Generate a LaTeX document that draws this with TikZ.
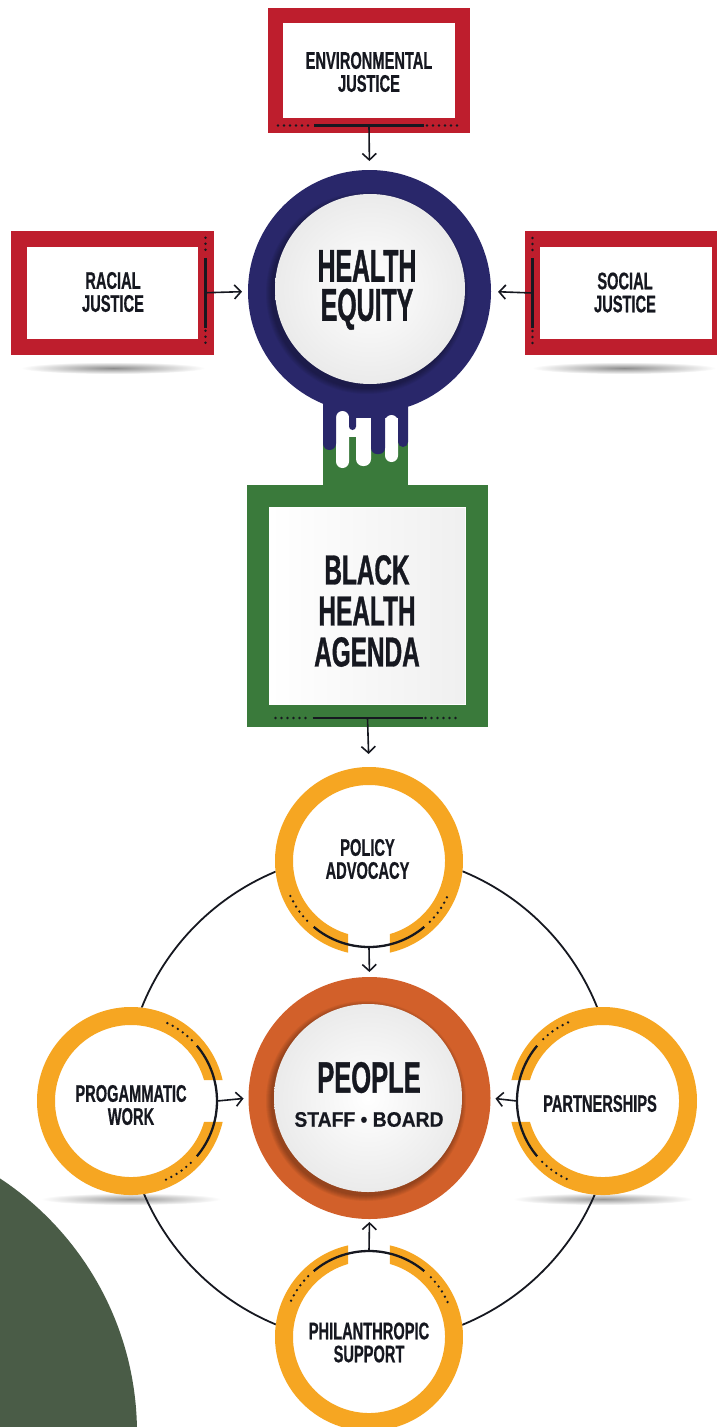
\documentclass[tikz,border=0pt]{standalone}
\usepackage{fontspec}
\setmainfont{Liberation Sans}
\newfontfamily\condS[FakeStretch=0.61, FakeBold=0.6]{Liberation Sans}
\newfontfamily\condL[FakeStretch=0.54, FakeBold=0.8]{Liberation Sans}
\newfontfamily\condM[FakeStretch=0.58, FakeBold=0.8]{Liberation Sans}
\newfontfamily\wideF[FakeStretch=0.92, FakeBold=0.4]{Liberation Sans}
\usetikzlibrary{arrows.meta}
\definecolor{jred}{HTML}{BE1E2D}
\definecolor{jnavy}{HTML}{29276A}
\definecolor{jgreen}{HTML}{3A7A3B}
\definecolor{jorange}{HTML}{F6A622}
\definecolor{jpeople}{HTML}{D2602A}
\definecolor{jdark}{HTML}{4A5C47}
\definecolor{ink}{HTML}{161820}
\tikzset{
  jbox/.style={rectangle, draw=jred, fill=white, inner sep=0pt, outer sep=0pt},
  gbox/.style={rectangle, draw=jgreen, fill=white, inner sep=0pt, outer sep=0pt},
  txtS/.style={font=\condS\bfseries\fontsize{24pt}{23pt}\selectfont, align=center, text=ink, inner sep=0pt},
  txtL/.style={font=\condL\bfseries\fontsize{46pt}{39pt}\selectfont, align=center, text=ink, inner sep=0pt},
  txtM/.style={font=\condM\bfseries\fontsize{42pt}{41pt}\selectfont, align=center, text=ink, inner sep=0pt},
  arr/.style={draw=ink, line width=1.6pt, -{Straight Barb[length=6.5pt, width=14pt]}},
  barline/.style={draw=ink, line width=2.5pt},
  dotline/.style={draw=ink, line width=2.6pt, line cap=round, dash pattern=on 0pt off 6pt},
  inkline/.style={draw=ink, line width=2.3pt},
  ringline/.style={draw=ink, line width=1.8pt},
  smallring/.style={circle, fill=white, minimum size=188pt, inner sep=0pt, outer sep=0pt},
  pics/gapring/.style={code={
    \fill[jorange] (#1+12.9:94pt) arc[start angle=#1+12.9, end angle=#1+347.1, radius=94pt]
      -- (#1+344:76pt) arc[start angle=#1+344, end angle=#1+16, radius=76pt] -- cycle;
    \draw[inkline] (#1-40:86pt) arc[start angle=#1-40, end angle=#1+40, radius=86pt];
    \draw[dotline] (#1+45:86pt) arc[start angle=#1+45, end angle=#1+66, radius=86pt];
    \draw[dotline] (#1-66:86pt) arc[start angle=#1-66, end angle=#1-45, radius=86pt];
  }}
}
\begin{document}
\begin{tikzpicture}[x=1pt,y=1pt]
\useasboundingbox (0,0) rectangle (717,-1427);
\fill[white] (0,0) rectangle (717,-1427);
\begin{scope}
\clip (0,0) rectangle (717,-1427);
% background blob
\fill[jdark] (-168,-1433) circle[radius=305pt];
% shadows
\shade[inner color=black!45, outer color=white] (113,-368) ellipse[x radius=92pt, y radius=6pt];
\shade[inner color=black!45, outer color=white] (624,-368) ellipse[x radius=92pt, y radius=6pt];
\shade[inner color=black!40, outer color=white] (131,-1199) ellipse[x radius=90pt, y radius=6pt];
\shade[inner color=black!40, outer color=white] (603,-1199) ellipse[x radius=90pt, y radius=6pt];
% top boxes
\node[jbox, line width=15.5pt, minimum width=187pt, minimum height=110pt] (env) at (369,-70.5) {};
\node[jbox, line width=16pt, minimum width=186.5pt, minimum height=108.5pt] (racial) at (112.25,-292.75) {};
\node[jbox, line width=15.5pt, minimum width=187pt, minimum height=108pt] (social) at (626,-293) {};
% neck and drips
\fill[jgreen] (323,-437) rectangle (408,-490);
\fill[jnavy] (323,-380) rectangle (408,-418);
\node[circle, fill=jnavy, minimum size=243pt, inner sep=0pt, outer sep=0pt] (he) at (369.5,-291.5) {};
\fill[white, rounded corners=6.5pt] (336,-411) rectangle (349,-468);
\fill[white, rounded corners=7pt] (356,-418) rectangle (371,-466);
\fill[white, rounded corners=6.5pt] (385,-415) rectangle (398,-462);
\fill[jnavy, rounded corners=6.5pt] (323,-395) rectangle (336,-450);
\fill[jnavy, rounded corners=3.5pt] (349,-395) rectangle (356,-430);
\fill[jnavy, rounded corners=6pt] (371,-395) rectangle (385,-454);
\fill[jnavy, rounded corners=5pt] (398,-395) rectangle (408,-447);
% health plate
\foreach \k in {1,...,6} {\fill[black, opacity=0.05] (367,-293) circle[radius=95pt+\k*1pt];}
\shade[inner color=white, outer color=black!8] (370,-289) circle[radius=95pt];
\node[txtL] (het) at (367,-290) {HEALTH\\EQUITY};
% black health agenda box
\node[gbox, line width=22.5pt, minimum width=219pt, minimum height=220pt] (bha) at (367.5,-606) {};
\shade[left color=white, right color=black!6] (269,-508) rectangle (465,-703);
\node[txtM] (bhat) at (367,-611) {BLACK\\HEALTH\\AGENDA};
% texts in red boxes
\node[txtS] (envt) at (369,-72) {ENVIRONMENTAL\\JUSTICE};
\node[txtS] (racialt) at (113,-292) {RACIAL\\JUSTICE};
\node[txtS] (socialt) at (625,-292.5) {SOCIAL\\JUSTICE};
% bars on boxes
\draw[dotline] ([xshift=-91pt]env.south) -- ([xshift=-58pt]env.south);
\draw[barline] ([xshift=-55pt]env.south) -- ([xshift=55pt]env.south);
\draw[dotline] ([xshift=58pt]env.south) -- ([xshift=91pt]env.south);
\draw[dotline] ([yshift=55pt]racial.east) -- ([yshift=38pt]racial.east);
\draw[barline] ([yshift=35pt]racial.east) -- ([yshift=-35pt]racial.east);
\draw[dotline] ([yshift=-38pt]racial.east) -- ([yshift=-55pt]racial.east);
\draw[dotline] ([yshift=55pt]social.west) -- ([yshift=38pt]social.west);
\draw[barline] ([yshift=35pt]social.west) -- ([yshift=-35pt]social.west);
\draw[dotline] ([yshift=-38pt]social.west) -- ([yshift=-55pt]social.west);
\draw[dotline] ([xshift=-92pt,yshift=-2pt]bha.south) -- ([xshift=-58pt,yshift=-2pt]bha.south);
\draw[barline] ([xshift=-55pt,yshift=-2pt]bha.south) -- ([xshift=55pt,yshift=-2pt]bha.south);
\draw[dotline] ([xshift=58pt,yshift=-2pt]bha.south) -- ([xshift=92pt,yshift=-2pt]bha.south);
% people circle and ring
\node[circle, fill=jpeople, minimum size=242pt, inner sep=0pt, outer sep=0pt] (ppl) at (369.5,-1098) {};
\draw[ringline] (ppl.center) circle[radius=245pt];
\foreach \k in {1,...,6} {\fill[black, opacity=0.05] (366,-1101) circle[radius=94pt+\k*1pt];}
\shade[inner color=white, outer color=black!8] (368,-1098) circle[radius=94pt];
\node[font=\condM\bfseries\fontsize{44pt}{44pt}\selectfont, text=ink, inner sep=0pt] (pplt) at (369,-1077.5) {PEOPLE};
\node[font=\wideF\bfseries\fontsize{21pt}{21pt}\selectfont, text=ink, inner sep=0pt] (staff) at (369,-1119.5) {STAFF • BOARD};
% small circles
\node[smallring] (pol) at (369,-861) {};
\pic at (pol.center) {gapring=270};
\node[smallring] (prg) at (131,-1101) {};
\pic at (prg.center) {gapring=0};
\node[smallring] (prt) at (603,-1101) {};
\pic at (prt.center) {gapring=180};
\node[smallring] (phi) at (369,-1337) {};
\pic at (phi.center) {gapring=90};
\node[txtS] (polt) at (367.5,-859) {POLICY\\ADVOCACY};
\node[txtS] (prgt) at (131,-1105) {PROGAMMATIC\\WORK};
\node[txtS] (prtt) at (600,-1103.5) {PARTNERSHIPS};
\node[txtS] (phit) at (369,-1342.5) {PHILANTHROPIC\\SUPPORT};
% arrows
\draw[arr, shorten >=9pt] (env.south) -- (he.north);
\draw[arr, shorten >=6pt] (racial.east) -- (he.west);
\draw[arr, shorten >=7pt] (social.west) -- (he.east);
\draw[arr, shorten >=13pt] ([yshift=-2pt]bha.south) -- (pol.north);
\draw[arr, shorten >=5pt] ([yshift=-86pt]pol.center) -- (ppl.north);
\draw[arr, shorten >=5pt] ([xshift=86pt]prg.center) -- (ppl.west);
\draw[arr, shorten >=5pt] ([xshift=-86pt]prt.center) -- (ppl.east);
\draw[arr, shorten >=3pt] ([yshift=86pt]phi.center) -- (ppl.south);
\end{scope}
\end{tikzpicture}
\end{document}
